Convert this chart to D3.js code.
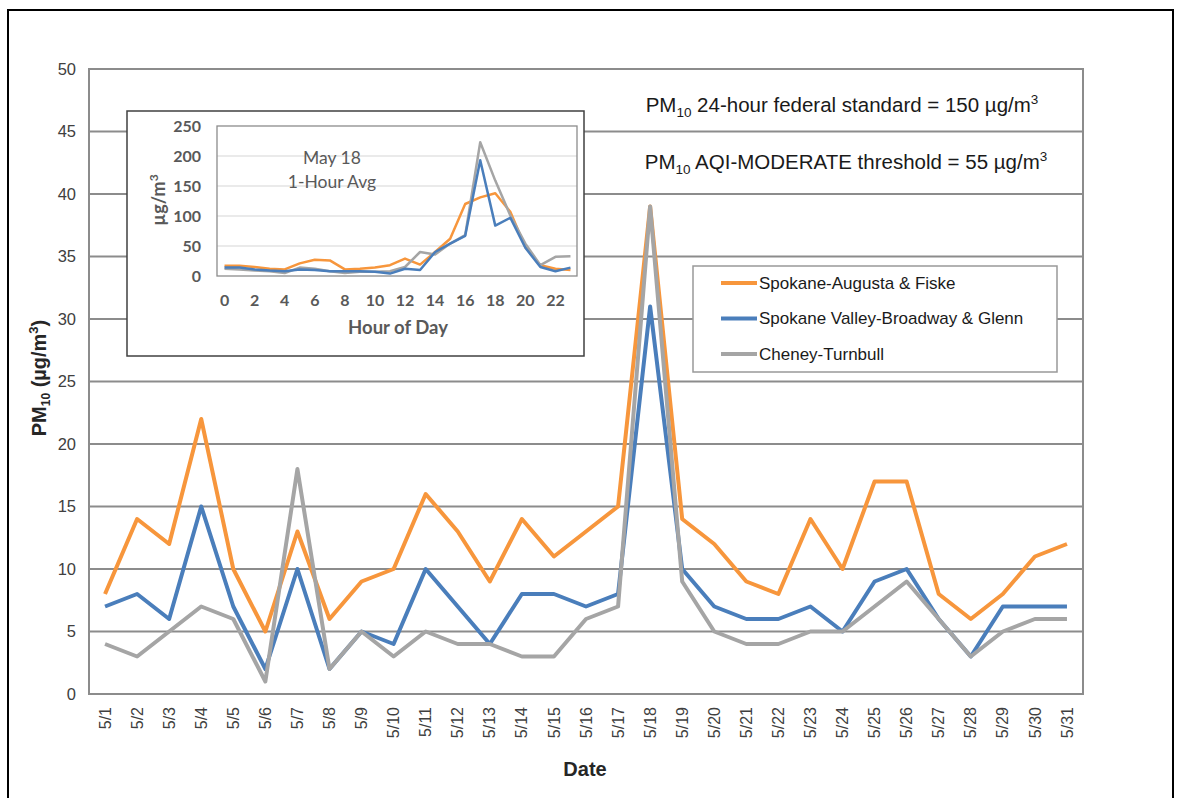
<!DOCTYPE html>
<html>
<head>
<meta charset="utf-8">
<script src="https://cdn.jsdelivr.net/npm/d3@7"></script>
<style>
  body { margin: 0; background: white; }
  svg { display: block; }
</style>
</head>
<body>
<svg id="chart"></svg>
<script>
// daily averages, May
var dates = ["5/1","5/2","5/3","5/4","5/5","5/6","5/7","5/8","5/9","5/10","5/11","5/12","5/13","5/14","5/15","5/16",
             "5/17","5/18","5/19","5/20","5/21","5/22","5/23","5/24","5/25","5/26","5/27","5/28","5/29","5/30","5/31"]
var augusta  = [8,14,12,22,10,5,13,6,9,10,16,13,9,14,11,13,15,39,14,12,9,8,14,10,17,17,8,6,8,11,12]
var broadway = [7,8,6,15,7,2,10,2,5,4,10,7,4,8,8,7,8,31,10,7,6,6,7,5,9,10,6,3,7,7,7]
var cheney   = [4,3,5,7,6,1,18,2,5,3,5,4,4,3,3,6,7,39,9,5,4,4,5,5,7,9,6,3,5,6,6]
var yTicks = [0,5,10,15,20,25,30,35,40,45,50]

// May 18 hourly values (inset)
var hours = d3.range(0, 24)
var hourLabels = [0,2,4,6,8,10,12,14,16,18,20,22]
var augustaHr  = [17,17,15,12,11,21,27,26,11,12,14,18,29,19,40,62,120,131,138,107,48,18,12,10]
var broadwayHr = [14,14,11,9,8,11,10,8,8,8,7,4,12,10,40,54,67,193,84,97,47,15,8,14]
var cheneyHr   = [12,11,9,8,5,14,12,8,5,7,7,8,15,40,36,54,68,223,159,101,54,18,32,33]
var insetTicks = [0,50,100,150,200,250]

var seriesNames = ["Spokane-Augusta & Fiske","Spokane Valley-Broadway & Glenn","Cheney-Turnbull"]
var colors = ["#f7963c","#4a7ebb","#a5a5a5"]

var dimensions = {
    width: 1177,
    height: 798,
    margin: { top: 69, left: 89, right: 94, bottom: 104 }
}
var plotRight = dimensions.width - dimensions.margin.right
var plotBottom = dimensions.height - dimensions.margin.bottom

var svg = d3.select("#chart")
            .attr("width", dimensions.width)
            .attr("height", dimensions.height)
            .style("font-family", "'Liberation Sans', Arial, sans-serif")

// outer frame
svg.append("rect")
   .attr("x", 8).attr("y", 10)
   .attr("width", 1165).attr("height", 800)
   .attr("fill", "white")
   .attr("stroke", "black")
   .attr("stroke-width", 2)

var xScale = d3.scaleBand()
               .domain(dates)
               .range([dimensions.margin.left, plotRight])
var yScale = d3.scaleLinear()
               .domain([0, 50])
               .range([plotBottom, dimensions.margin.top])

// grid
svg.append("g")
   .selectAll("line")
   .data(yTicks)
   .enter()
   .append("line")
   .attr("x1", dimensions.margin.left)
   .attr("x2", plotRight)
   .attr("y1", d => yScale(d))
   .attr("y2", d => yScale(d))
   .style("stroke", "#8c8c8c")
   .style("stroke-width", 2)

svg.append("rect")
   .attr("x", dimensions.margin.left)
   .attr("y", dimensions.margin.top)
   .attr("width", plotRight - dimensions.margin.left)
   .attr("height", plotBottom - dimensions.margin.top)
   .attr("fill", "none")
   .style("stroke", "#8c8c8c")
   .style("stroke-width", 2)

// y tick labels
svg.append("g")
   .selectAll("text")
   .data(yTicks)
   .enter()
   .append("text")
   .attr("x", 76)
   .attr("y", d => yScale(d))
   .attr("dy", "0.35em")
   .attr("text-anchor", "end")
   .style("font-size", "16.5px")
   .style("fill", "#404040")
   .text(d => d)

// x tick labels, rotated
svg.append("g")
   .selectAll("text")
   .data(dates)
   .enter()
   .append("text")
   .attr("transform", d => "translate(" + (xScale(d) + xScale.bandwidth() / 2) + "," + 707 + ") rotate(-90)")
   .attr("dy", "0.35em")
   .attr("text-anchor", "end")
   .style("font-size", "16px")
   .style("fill", "#404040")
   .text(d => d)

// axis titles
svg.append("text")
   .attr("x", 585)
   .attr("y", 776)
   .attr("text-anchor", "middle")
   .style("font-size", "20px")
   .style("font-weight", "bold")
   .style("fill", "#262626")
   .text("Date")

var yTitle = svg.append("text")
   .attr("transform", "translate(46,378) rotate(-90)")
   .attr("text-anchor", "middle")
   .style("font-size", "20px")
   .style("font-weight", "bold")
   .style("fill", "#262626")
yTitle.append("tspan").text("PM")
yTitle.append("tspan").attr("dy", 4).style("font-size", "12px").text("10")
yTitle.append("tspan").attr("dy", -4).text(" (µg/m")
yTitle.append("tspan").attr("dy", -8).style("font-size", "13px").text("3")
yTitle.append("tspan").attr("dy", 8).text(")")

// series lines
var line = d3.line()
             .x((d, i) => xScale(dates[i]) + xScale.bandwidth() / 2)
             .y(d => yScale(d))

var allSeries = [augusta, broadway, cheney]
svg.append("g")
   .selectAll("path")
   .data(allSeries)
   .enter()
   .append("path")
   .attr("d", d => line(d))
   .attr("fill", "none")
   .attr("stroke", (d, i) => colors[i])
   .attr("stroke-width", 4)
   .attr("stroke-linejoin", "round")

// annotations
function subSupText(x, y, middle) {
    var t = svg.append("text")
               .attr("x", x)
               .attr("y", y)
               .attr("text-anchor", "middle")
               .style("font-size", "20.5px")
               .style("fill", "#1a1a1a")
    t.append("tspan").text("PM")
    t.append("tspan").attr("dy", 5).style("font-size", "13.5px").text("10")
    t.append("tspan").attr("dy", -5).text(middle)
    t.append("tspan").attr("dy", -8).style("font-size", "13.5px").text("3")
}
subSupText(842, 112, " 24-hour federal standard = 150 µg/m")
subSupText(846, 169, " AQI-MODERATE threshold = 55 µg/m")

// legend
var legend = svg.append("g")
legend.append("rect")
      .attr("x", 693).attr("y", 266)
      .attr("width", 364).attr("height", 106)
      .attr("fill", "white")
      .style("stroke", "#999")
      .style("stroke-width", 1.5)
var rows = legend.selectAll("g.row")
      .data(seriesNames)
      .enter()
      .append("g")
      .attr("class", "row")
      .attr("transform", (d, i) => "translate(0," + (283 + i * 35.5) + ")")
rows.append("line")
    .attr("x1", 721).attr("x2", 757)
    .attr("stroke", (d, i) => colors[i])
    .attr("stroke-width", 4)
rows.append("text")
    .attr("x", 759)
    .attr("dy", "0.35em")
    .style("font-size", "17px")
    .style("fill", "#1a1a1a")
    .text(d => d)

// inset chart
var inset = svg.append("g")
inset.append("rect")
     .attr("x", 127).attr("y", 111)
     .attr("width", 457).attr("height", 245)
     .attr("fill", "white")
     .style("stroke", "#404040")
     .style("stroke-width", 1.5)

var hx = d3.scaleBand()
           .domain(hours)
           .range([217, 578])
var hy = d3.scaleLinear()
           .domain([0, 250])
           .range([276, 126])

inset.append("g")
     .selectAll("line")
     .data(insetTicks.slice(1, 5))
     .enter()
     .append("line")
     .attr("x1", 217).attr("x2", 577)
     .attr("y1", d => hy(d)).attr("y2", d => hy(d))
     .style("stroke", "#e3e3e3")
     .style("stroke-width", 1.5)
inset.append("rect")
     .attr("x", 217).attr("y", hy(250))
     .attr("width", 360).attr("height", hy(0) - hy(250))
     .attr("fill", "none")
     .style("stroke", "#8c8c8c")
     .style("stroke-width", 1.3)

var insetFont = "Lato, 'Open Sans', sans-serif"
inset.append("g")
     .selectAll("text")
     .data(insetTicks)
     .enter()
     .append("text")
     .attr("x", 201)
     .attr("y", d => hy(d))
     .attr("dy", "0.35em")
     .attr("text-anchor", "end")
     .style("font-family", insetFont)
     .style("font-size", "16px")
     .style("font-weight", "bold")
     .style("fill", "#595959")
     .text(d => d)
inset.append("g")
     .selectAll("text")
     .data(hourLabels)
     .enter()
     .append("text")
     .attr("x", d => hx(d) + hx.bandwidth() / 2)
     .attr("y", 306)
     .attr("text-anchor", "middle")
     .style("font-family", insetFont)
     .style("font-size", "16px")
     .style("font-weight", "bold")
     .style("fill", "#595959")
     .text(d => d)
inset.append("text")
     .attr("x", 398).attr("y", 334)
     .attr("text-anchor", "middle")
     .style("font-family", insetFont)
     .style("font-size", "18.5px")
     .style("font-weight", "bold")
     .style("fill", "#595959")
     .text("Hour of Day")
var insetY = inset.append("text")
     .attr("transform", "translate(165,200) rotate(-90)")
     .attr("text-anchor", "middle")
     .style("font-family", insetFont)
     .style("font-size", "18px")
     .style("font-weight", "bold")
     .style("fill", "#595959")
insetY.append("tspan").text("µg/m")
insetY.append("tspan").attr("dy", -7).style("font-size", "12px").text("3")
inset.append("text")
     .attr("x", 332).attr("y", 164)
     .attr("text-anchor", "middle")
     .style("font-family", insetFont)
     .style("font-size", "17.5px")
     .style("fill", "#595959")
     .text("May 18")
inset.append("text")
     .attr("x", 332).attr("y", 188)
     .attr("text-anchor", "middle")
     .style("font-family", insetFont)
     .style("font-size", "17.5px")
     .style("fill", "#595959")
     .text("1-Hour Avg")

var hourLine = d3.line()
                 .x((d, i) => hx(hours[i]) + hx.bandwidth() / 2)
                 .y(d => hy(d))
inset.append("g")
     .selectAll("path")
     .data([augustaHr, cheneyHr, broadwayHr])
     .enter()
     .append("path")
     .attr("d", d => hourLine(d))
     .attr("fill", "none")
     .attr("stroke", (d, i) => [colors[0], colors[2], colors[1]][i])
     .attr("stroke-width", 2.5)
     .attr("stroke-linejoin", "round")
</script>
</body>
</html>
